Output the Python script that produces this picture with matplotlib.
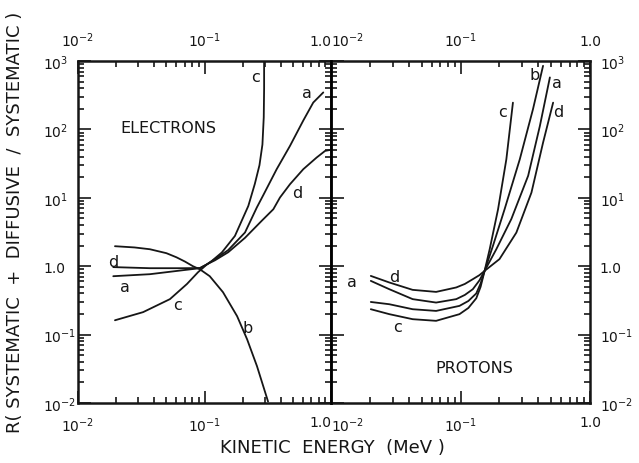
import numpy as np
import matplotlib
matplotlib.use("Agg")
import matplotlib.pyplot as plt
from matplotlib.ticker import LogLocator, NullFormatter

# electrons, kinetic energy (MeV) vs ratio R
e_a_x = [0.019, 0.037, 0.0676, 0.092, 0.105, 0.121, 0.154, 0.209, 0.259, 0.292, 0.372, 0.474, 0.604, 0.724, 0.869]
e_a_y = [0.714, 0.764, 0.874, 0.935, 1.07, 1.27, 1.72, 3.11, 7.2, 11.0, 26.2, 57.4, 135, 247, 347]

e_b_x = [0.0196, 0.028, 0.037, 0.05, 0.06, 0.07, 0.081, 0.092, 0.11, 0.14, 0.181, 0.217, 0.26, 0.318]
e_b_y = [1.96, 1.88, 1.77, 1.55, 1.35, 1.17, 1.0, 0.90, 0.714, 0.417, 0.186, 0.0857, 0.0345, 0.0105]

e_c_x = [0.0196, 0.0327, 0.0533, 0.0727, 0.0889, 0.105, 0.114, 0.137, 0.174, 0.222, 0.25, 0.272, 0.287, 0.294, 0.296, 0.296]
e_c_y = [0.162, 0.213, 0.33, 0.55, 0.817, 1.07, 1.19, 1.585, 2.77, 7.6, 16, 30, 60, 150, 400, 1000]

e_d_x = [0.019, 0.037, 0.0676, 0.092, 0.105, 0.121, 0.154, 0.209, 0.283, 0.35, 0.395, 0.474, 0.604, 0.77, 0.898, 0.98]
e_d_y = [0.97, 0.935, 0.935, 0.94, 1.07, 1.22, 1.6, 2.6, 4.6, 6.8, 10.1, 15.8, 26.2, 38.8, 48.5, 50]

# protons
p_a_x = [0.0203, 0.0282, 0.0427, 0.0648, 0.0927, 0.108, 0.1245, 0.14, 0.1535, 0.189, 0.247, 0.333, 0.41, 0.49]
p_a_y = [0.61, 0.461, 0.33, 0.294, 0.33, 0.38, 0.461, 0.62, 0.854, 1.77, 4.9, 21, 112, 575]

p_b_x = [0.0203, 0.0282, 0.0427, 0.0648, 0.0982, 0.115, 0.1324, 0.143, 0.1535, 0.178, 0.219, 0.287, 0.363, 0.434]
p_b_y = [0.30, 0.278, 0.235, 0.222, 0.263, 0.31, 0.40, 0.56, 0.854, 1.98, 6.8, 36.6, 198, 850]

p_c_x = [0.0203, 0.0282, 0.0427, 0.0648, 0.0982, 0.115, 0.1324, 0.143, 0.1535, 0.168, 0.195, 0.226, 0.254]
p_c_y = [0.235, 0.199, 0.168, 0.159, 0.199, 0.245, 0.34, 0.50, 0.854, 1.77, 6.8, 36.6, 246]

p_d_x = [0.0203, 0.0282, 0.0427, 0.0648, 0.0927, 0.108, 0.1245, 0.14, 0.1535, 0.20, 0.27, 0.353, 0.434, 0.519]
p_d_y = [0.721, 0.578, 0.451, 0.421, 0.489, 0.55, 0.646, 0.74, 0.854, 1.27, 3.1, 11.9, 64, 246]

x_ticks = [0.01, 0.1, 1.0]
x_ticklabels = [r"$10^{-2}$", r"$10^{-1}$", "1.0"]
y_ticks = [0.01, 0.1, 1.0, 10, 100, 1000]
y_ticklabels = [r"$10^{-2}$", r"$10^{-1}$", "1.0", r"$10^{1}$", r"$10^{2}$", r"$10^{3}$"]

# curve letters (text, x, y) in data units
e_letters = [("c", 0.255, 600), ("a", 0.645, 350), ("d", 0.54, 12),
             ("d", 0.0189, 1.18), ("a", 0.0235, 0.51), ("c", 0.061, 0.28), ("b", 0.22, 0.128)]
p_letters = [("b", 0.375, 640), ("a", 0.555, 490), ("c", 0.212, 185), ("d", 0.565, 185),
             ("d", 0.0308, 0.71), ("a", 0.0146, 0.60), ("c", 0.0325, 0.133)]

ink = "#161616"
plt.rcParams["font.family"] = "DejaVu Sans"
plt.rcParams["mathtext.fontset"] = "dejavusans"

W, H = 639, 464
fig = plt.figure(figsize=(W / 100, H / 100), dpi=100)
pos1 = [78 / W, 1 - 404 / H, 253 / W, 342 / H]
pos2 = [331 / W, 1 - 404 / H, 259 / W, 342 / H]
ax1 = fig.add_axes(pos1)
ax2 = fig.add_axes(pos2)

for ax in (ax1, ax2):
    ax.set_xscale("log")
    ax.set_yscale("log")
    ax.set_xlim(0.01, 1.0)
    ax.set_ylim(0.01, 1000)
    ax.set_xticks(x_ticks)
    ax.set_xticklabels(x_ticklabels)
    ax.set_yticks(y_ticks)
    ax.set_yticklabels(y_ticklabels)
    ax.xaxis.set_minor_locator(LogLocator(base=10, subs=range(2, 10)))
    ax.yaxis.set_minor_locator(LogLocator(base=10, subs=range(2, 10)))
    ax.xaxis.set_minor_formatter(NullFormatter())
    ax.yaxis.set_minor_formatter(NullFormatter())
    for s in ax.spines.values():
        s.set_linewidth(1.8)
        s.set_color(ink)
    ax.tick_params(axis="x", which="both", direction="in", top=True, bottom=True,
                   labeltop=True, labelbottom=True, colors=ink, width=1.2)
    ax.tick_params(axis="x", which="major", length=9, labelsize=10, pad=9)
    ax.tick_params(axis="x", which="minor", length=4.5)

# left panel y: labels on the outer left
ax1.tick_params(axis="y", which="both", left=True, right=False, labelleft=True,
                direction="in", colors=ink, width=1.2)
ax1.tick_params(axis="y", which="major", length=9, labelsize=10, pad=25)
ax1.tick_params(axis="y", which="minor", length=4.5)
for t in ax1.yaxis.get_major_ticks():
    t.label1.set_horizontalalignment("left")

# right panel y: labels on the outer right
ax2.tick_params(axis="y", which="both", left=False, right=True, labelleft=False,
                labelright=True, direction="in", colors=ink, width=1.2)
ax2.tick_params(axis="y", which="major", length=9, labelsize=10, pad=7)
ax2.tick_params(axis="y", which="minor", length=4.5)

# middle shared axis: ticks crossing both ways
axm = fig.add_axes(pos2, sharey=ax2)
axm.patch.set_visible(False)
for k in ("top", "right", "bottom"):
    axm.spines[k].set_visible(False)
axm.spines["left"].set_linewidth(1.8)
axm.set_xticks([])
axm.tick_params(axis="y", which="both", left=True, right=False, labelleft=False,
                labelright=False, direction="inout", colors=ink, width=1.2)
axm.tick_params(axis="y", which="major", length=18)
axm.tick_params(axis="y", which="minor", length=9)

# keep the "1.0" / "10^-2" labels at the panel join apart
t_last = ax1.xaxis.get_major_ticks()[-1]
t_last.label1.set_horizontalalignment("right")
t_last.label2.set_horizontalalignment("right")
t_first = ax2.xaxis.get_major_ticks()[0]
t_first.label1.set_horizontalalignment("left")
t_first.label2.set_horizontalalignment("left")

lw = 1.3
for xs, ys in [(e_a_x, e_a_y), (e_b_x, e_b_y), (e_c_x, e_c_y), (e_d_x, e_d_y)]:
    ax1.plot(xs, ys, color=ink, lw=lw, solid_capstyle="round")
for xs, ys in [(p_a_x, p_a_y), (p_b_x, p_b_y), (p_c_x, p_c_y), (p_d_x, p_d_y)]:
    ax2.plot(xs, ys, color=ink, lw=lw, solid_capstyle="round")

for s, x, y in e_letters:
    ax1.text(x, y, s, fontsize=11.5, color=ink, ha="center", va="center")
for s, x, y in p_letters:
    ax2.text(x, y, s, fontsize=11.5, color=ink, ha="center", va="center")

ax1.text(0.356, 0.807, "ELECTRONS", transform=ax1.transAxes, fontsize=11.5,
         color=ink, ha="center", va="center")
ax2.text(0.554, 0.105, "PROTONS", transform=ax2.transAxes, fontsize=11.5,
         color=ink, ha="center", va="center")

fig.text(332 / W, 1 - 448 / H, "KINETIC  ENERGY  (MeV )", fontsize=13,
         color=ink, ha="center", va="center")
fig.text(15 / W, 1 - 222 / H, "R( SYSTEMATIC  +  DIFFUSIVE  /  SYSTEMATIC )",
         rotation=90, fontsize=13, color=ink, ha="center", va="center")

fig.savefig("out.png", dpi=100, facecolor="white")
